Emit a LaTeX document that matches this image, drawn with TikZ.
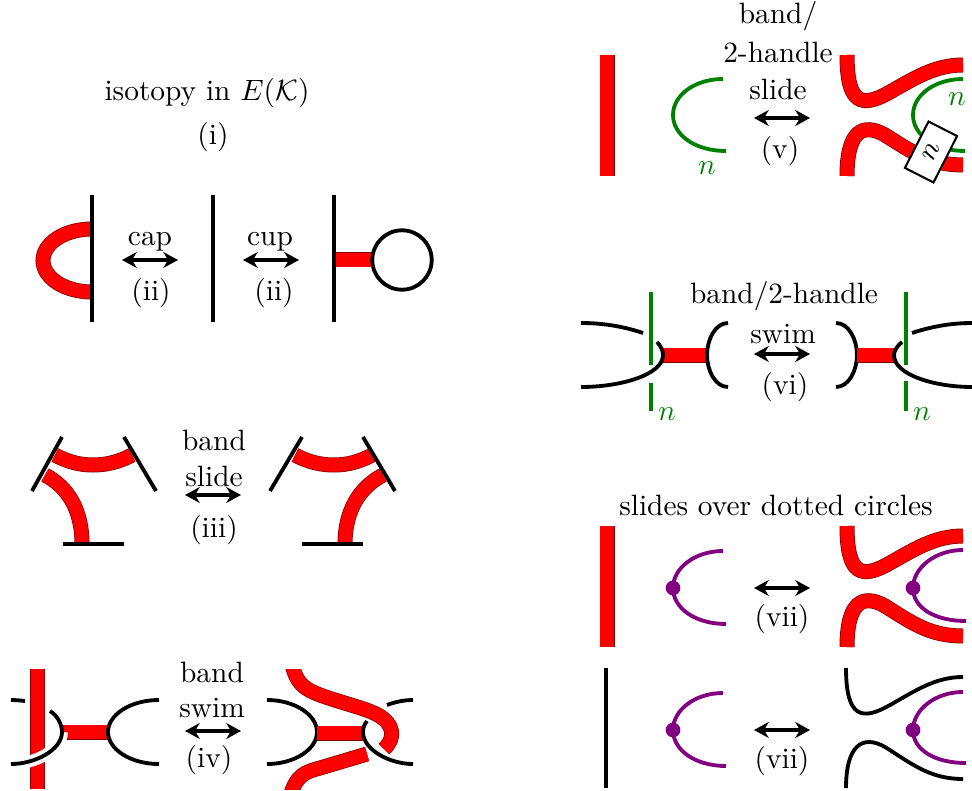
\documentclass[tikz,border=0pt]{standalone}
\usetikzlibrary{arrows.meta,calc}
\definecolor{dgreen}{RGB}{0,128,0}
\definecolor{dpurple}{RGB}{128,0,128}
\definecolor{bandedge}{RGB}{130,0,0}
\tikzset{
  blk/.style={draw=black,line width=1.3pt},
  grn/.style={draw=dgreen,line width=1.3pt},
  prp/.style={draw=dpurple,line width=1.3pt},
  band/.style={draw=bandedge,line width=0.25pt,double=red,double distance=4.6pt},
  gapw/.style={preaction={draw=white,line width=4pt}},
  dbl/.style={{Stealth[length=5pt,width=5.4pt,inset=1.6pt]}-{Stealth[length=5pt,width=5.4pt,inset=1.6pt]},draw=black,line width=1.2pt},
  lab/.style={inner sep=0pt,anchor=center},
  gn/.style={lab,text=dgreen},
  dotp/.style={circle,fill=dpurple,inner sep=0pt,minimum size=5pt},
}
\newcommand{\darrow}[3]{\coordinate (a#1) at (#2,#3); \coordinate (b#1) at ($(#2,#3)+(56,0)$); \draw[dbl] (a#1) -- (b#1);}
\begin{document}
\begin{tikzpicture}[x=0.34pt,y=-0.34pt]
\useasboundingbox (0,0) rectangle (972,791);
% (i)
\node[lab] (t1) at (207,93) {isotopy in $E(\mathcal{K})$};
\node[lab] (t2) at (213,137) {(i)};
% (ii)
\draw[band] (92,229) .. controls (65,229) and (43,243) .. (43,260.5) .. controls (43,278) and (65,292) .. (92,292);
\draw[blk] (92,195) -- (92,322);
\draw[blk] (213,195) -- (213,322);
\draw[band] (334,260) -- (372,260);
\draw[blk] (334,195) -- (334,322);
\node[circle,draw=black,line width=1.3pt,minimum size=20.2pt,inner sep=0pt] (c2) at (402,260) {};
\node[lab] (t3) at (150,241.5) {cap};
\node[lab] (t4) at (151,293) {(ii)};
\darrow{1}{122}{260}
\node[lab] (t5) at (270,241.5) {cup};
\node[lab] (t6) at (274,293) {(ii)};
\darrow{2}{243}{260}
% (iii)
\draw[band] (55,455) .. controls (68,462) and (80,465) .. (93,465) .. controls (106,465) and (119,462) .. (132,455);
\draw[band] (45,475) .. controls (68,487) and (82,510) .. (82,544);
\draw[blk] (62,437) -- (32,491);
\draw[blk] (124,437) -- (156,491);
\draw[blk] (63,544) -- (124,544);
\draw[band] (295,455) .. controls (308,462) and (321,465) .. (334,465) .. controls (347,465) and (359,462) .. (372,455);
\draw[band] (383,475) .. controls (360,487) and (345,510) .. (345,544);
\draw[blk] (302,437) -- (270,491);
\draw[blk] (363,437) -- (395,491);
\draw[blk] (302,544) -- (363,544);
\node[lab] (t7) at (214,440) {band};
\node[lab] (t8) at (214,476) {slide};
\darrow{3}{185}{495}
\node[lab] (t9) at (214,530) {(iii)};
% (iv) left
\draw[band] (37.5,669) -- (37.5,789);
\draw[blk] (11,700) .. controls (16,700) and (20,700.5) .. (25,701);
\draw[band] (62,732) -- (108,732);
\draw[blk,gapw] (62,732) .. controls (62,750) and (35,764) .. (11,764);
\draw[blk] (50,711) .. controls (58,716) and (62,725) .. (62,732);
\draw[blk] (159,700) .. controls (130,700) and (108,715) .. (108,732) .. controls (108,749) and (130,764) .. (159,764);
% (iv) right
\draw[blk] (267,700) .. controls (295,700) and (317,715) .. (317,732) .. controls (317,749) and (295,764) .. (267,764);
\draw[band] (317,733) -- (363,733);
\draw[blk] (387,705) .. controls (395,702) and (404,700) .. (413,700);
\begin{scope}
\clip (270,669) rectangle (420,789);
\draw[band] (291,660) .. controls (296,685) and (305,689) .. (320,695) .. controls (345,704) and (365,708) .. (378,715) .. controls (394,724) and (396,738) .. (384,749);
\draw[band] (290,797) .. controls (296,775) and (305,772) .. (320,768) -- (367,754);
\end{scope}
\draw[blk] (367,721) .. controls (364,725) and (363,728) .. (363,732) .. controls (363,750) and (390,764) .. (413,764);
\node[lab] (t10) at (212,672) {band};
\node[lab] (t11) at (212,708) {swim};
\darrow{4}{185}{731}
\node[lab] (t12) at (209,760) {(iv)};
% (v)
\draw[band] (607,55) -- (607,176);
\draw[grn] (723,79) .. controls (695,79) and (673,95) .. (673,115) .. controls (673,135) and (695,151) .. (726,151);
\node[gn] (n1) at (707,168) {$n$};
\node[lab] (t13) at (778,16) {band/};
\node[lab] (t14) at (778,52) {2-handle};
\node[lab] (t15) at (778,89) {slide};
\darrow{5}{754}{118}
\node[lab] (t16) at (780,151) {(v)};
\draw[band] (847,55) .. controls (847,105) and (862,108) .. (890,92) .. controls (915,78) and (935,65) .. (963,65);
\draw[band] (847,176) .. controls (847,132) and (862,122) .. (885,135) .. controls (912,152) and (930,165) .. (963,165);
\draw[grn] (963,79) .. controls (935,79) and (913,95) .. (913,115) .. controls (913,135) and (935,151) .. (965,151);
\node[gn] (n2) at (957,99) {$n$};
\node[draw=black,fill=white,line width=0.7pt,rotate=63,minimum width=17.7pt,minimum height=10.9pt,inner sep=0pt] (bx) at (931,152) {$n$};
% (vi)
\draw[grn] (651,292) -- (651,365);
\draw[grn] (651,383) -- (651,411);
\node[gn] (n3) at (667,414) {$n$};
\draw[blk] (581,323) .. controls (605,323) and (625,327) .. (643,333);
\draw[band] (663,355) -- (707,355);
\draw[blk] (657,342) .. controls (661,346) and (663,351) .. (663,355) .. controls (663,375) and (620,387) .. (581,387);
\draw[blk] (728,323) .. controls (715,323) and (707,340) .. (707,355) .. controls (707,370) and (715,387) .. (728,387);
\draw[blk] (836,323) .. controls (849,323) and (857,340) .. (857,355) .. controls (857,370) and (849,387) .. (836,387);
\draw[band] (857,355) -- (895,355);
\draw[grn] (906,292) -- (906,365);
\draw[grn] (906,381) -- (906,411);
\draw[blk] (902,342) .. controls (897,346) and (894,351) .. (894,355) .. controls (894,375) and (935,387) .. (972,387);
\draw[blk] (912,333) .. controls (930,327) and (950,323) .. (972,323);
\node[gn] (n4) at (922,414) {$n$};
\node[lab] (t17) at (784,296) {band/2-handle};
\node[lab] (t18) at (783,334) {swim};
\darrow{6}{754}{354}
\node[lab] (t19) at (785,387) {(vi)};
% (vii)
\node[lab] (t20) at (776,505) {slides over dotted circles};
\draw[band] (607,526) -- (607,647);
\draw[prp] (723,551) .. controls (695,551) and (673,568) .. (673,588) .. controls (673,608) and (695,624) .. (726,624);
\node[dotp] (d1) at (673,588) {};
\darrow{7}{754}{588}
\node[lab] (t21) at (782,619) {(vii)};
\draw[band] (847,526) .. controls (847,576) and (862,579) .. (890,563) .. controls (915,549) and (935,536) .. (963,536);
\draw[band] (847,647) .. controls (847,603) and (862,593) .. (885,606) .. controls (912,623) and (930,636) .. (963,636);
\draw[prp] (963,550) .. controls (935,550) and (913,568) .. (913,588) .. controls (913,608) and (935,621) .. (966,621);
\node[dotp] (d2) at (913,588) {};
% lower (vii)
\draw[blk] (606,668) -- (606,788);
\draw[prp] (723,693) .. controls (695,693) and (673,710) .. (673,730) .. controls (673,750) and (695,766) .. (726,766);
\node[dotp] (d3) at (673,730) {};
\darrow{8}{754}{730}
\node[lab] (t22) at (782,761) {(vii)};
\draw[blk] (846,668) .. controls (846,718) and (862,721) .. (890,705) .. controls (915,691) and (935,677) .. (963,677);
\draw[blk] (846,788) .. controls (846,746) and (862,734) .. (885,747) .. controls (912,764) and (930,779) .. (963,779);
\draw[prp] (963,692) .. controls (935,692) and (913,710) .. (913,730) .. controls (913,750) and (935,763) .. (966,763);
\node[dotp] (d4) at (913,730) {};
\end{tikzpicture}
\end{document}
